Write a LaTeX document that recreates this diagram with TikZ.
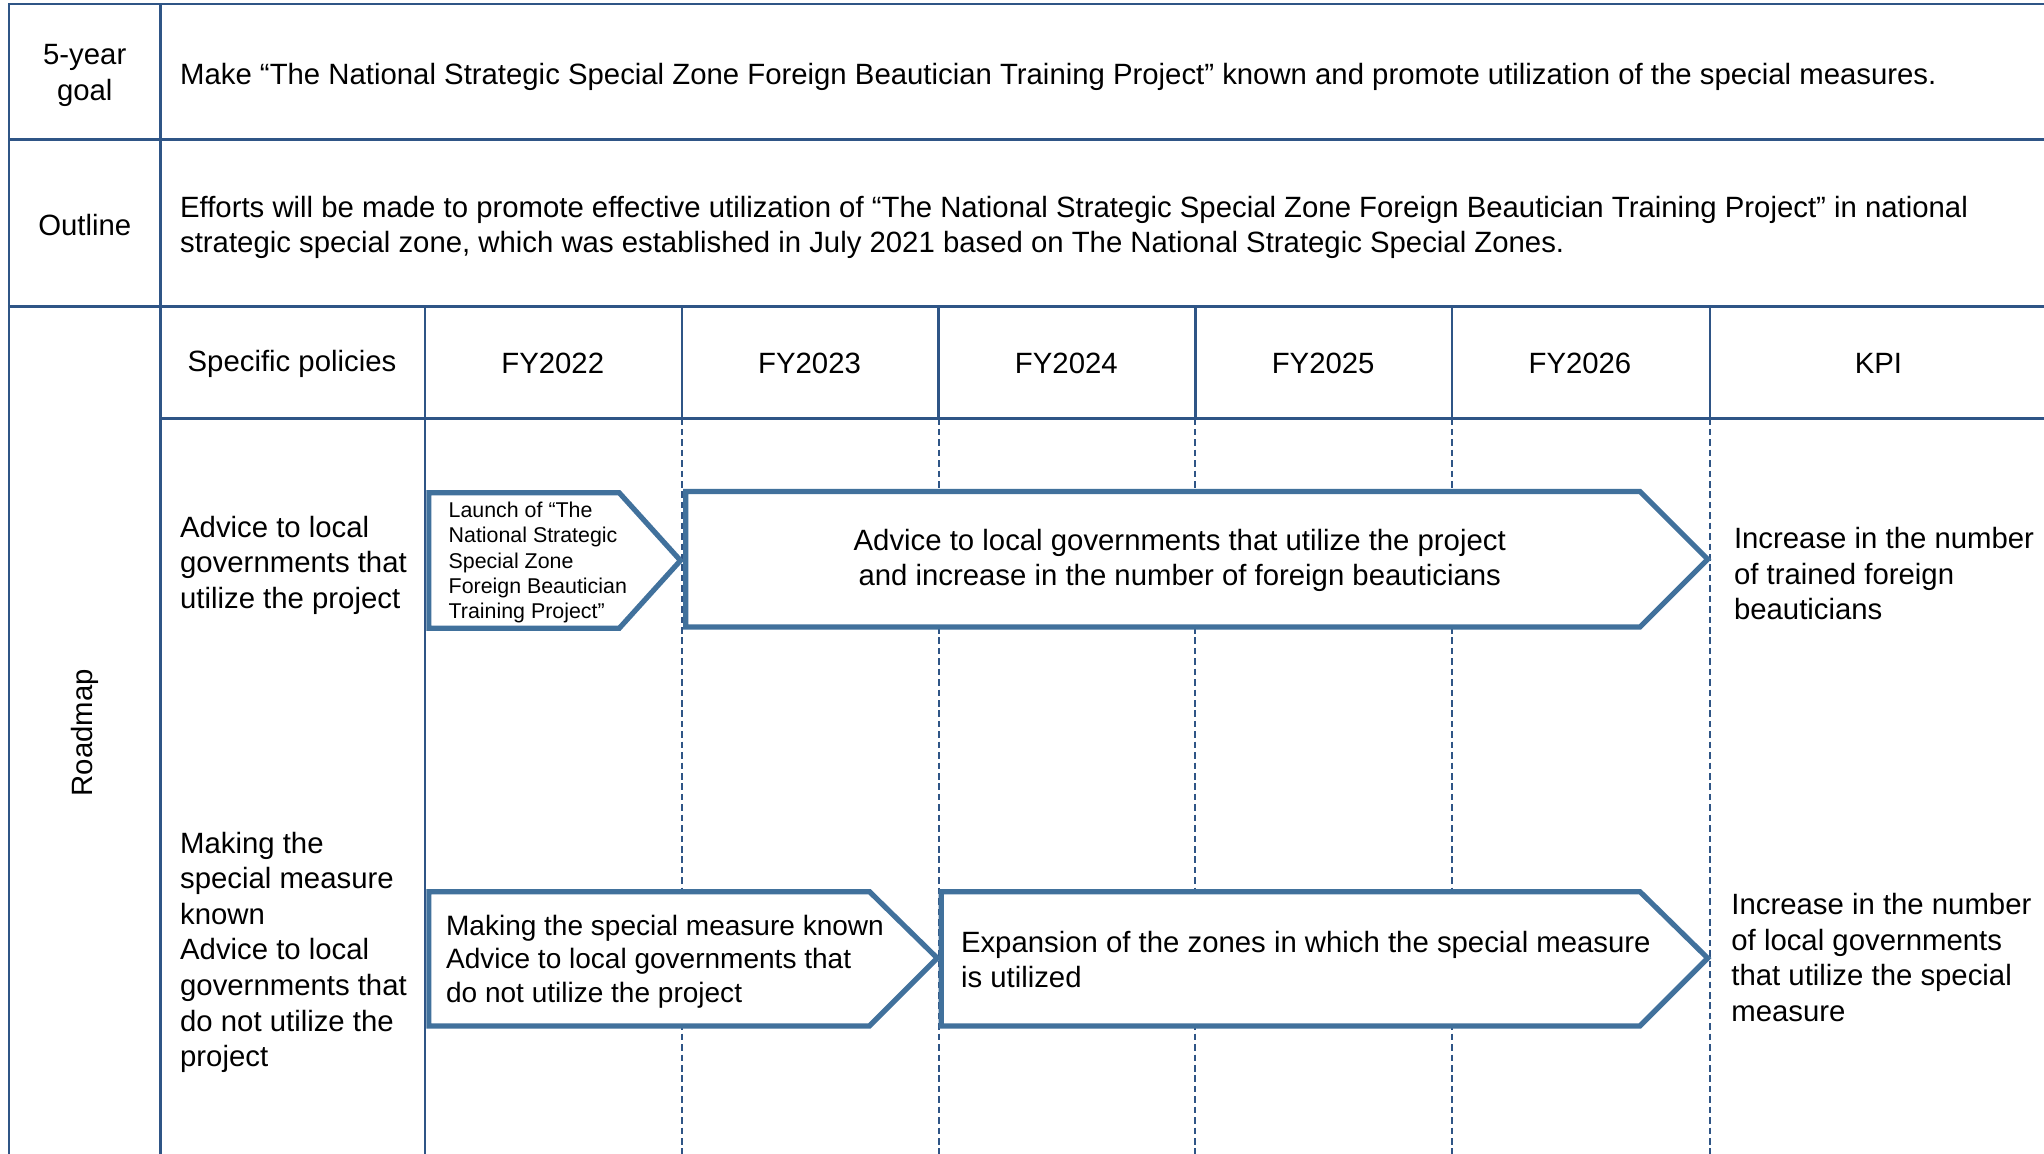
\documentclass[tikz,border=0pt]{standalone}
\usepackage{fontspec}
\setmainfont{Liberation Sans}
\definecolor{tbl}{RGB}{47,85,134}
\definecolor{arr}{RGB}{65,113,156}
\begin{document}
\begin{tikzpicture}[x=1pt,y=-1pt,
  tline/.style={draw=tbl,line width=1.8pt},
  dline/.style={draw=tbl,line width=1.5pt,dash pattern=on 5pt off 3pt},
  arrowbox/.style={draw=arr,line width=4pt,fill=white,line join=miter},
  txt/.style={inner sep=0pt,font=\fontsize{22.5}{27.3}\selectfont,text=black},
  smalltxt/.style={inner sep=0pt,font=\fontsize{16.4}{19.5}\selectfont,text=black}]
\useasboundingbox (0,0) rectangle (1568,885);
\fill[white] (0,0) rectangle (1568,885);
% table lines
\draw[tline] (7,885) -- (7,3) -- (1568,3);
\draw[tline] (123,3) -- (123,885);
\draw[tline] (7,107) -- (1568,107);
\draw[tline] (7,235) -- (1568,235);
\draw[tline] (123,321) -- (1568,321);
\draw[tline] (326,235) -- (326,885);
\foreach \c in {523,720,917,1114,1312}{
  \draw[tline] (\c,235) -- (\c,321);
  \draw[dline] (\c,321) -- (\c,885);
}
% labels
\node[txt,align=center] (goal) at (65,58) {5-year\\goal};
\node[txt,anchor=west] (goaltxt) at (138,59) {Make “The National Strategic Special Zone Foreign Beautician Training Project” known and promote utilization of the special measures.};
\node[txt] (outline) at (65,173) {Outline};
\node[txt,anchor=west,align=left] (outlinetxt) at (138,174.5) {Efforts will be made to promote effective utilization of “The National Strategic Special Zone Foreign Beautician Training Project” in national\\strategic special zone, which was established in July 2021 based on The National Strategic Special Zones.};
\node[txt,rotate=90] (roadmap) at (65,562) {Roadmap};
\node[txt] (hpol) at (224,279) {Specific policies};
\node[txt] (h22) at (424,279) {FY2022};
\node[txt] (h23) at (621,279) {FY2023};
\node[txt] (h24) at (818,279) {FY2024};
\node[txt] (h25) at (1015,279) {FY2025};
\node[txt] (h26) at (1212,279) {FY2026};
\node[txt] (hkpi) at (1441,279) {KPI};
% row 1
\node[txt,anchor=west,align=left] (pol1) at (138,433.5) {Advice to local\\governments that\\utilize the project};
\draw[arrowbox] (329,378) -- (475,378) -- (522,430) -- (475,482) -- (329,482) -- cycle;
\node[smalltxt,anchor=west,align=left] (a1) at (344,431.5) {Launch of “The\\National Strategic\\Special Zone\\Foreign Beautician\\Training Project”};
\draw[arrowbox] (526,377) -- (1258,377) -- (1310,429) -- (1258,481) -- (526,481) -- cycle;
\node[txt,align=center] (a2) at (905,430) {Advice to local governments that utilize the project\\and increase in the number of foreign beauticians};
\node[txt,anchor=west,align=left] (kpi1) at (1330,440) {Increase in the number\\of trained foreign\\beauticians};
% row 2
\node[txt,anchor=west,align=left] (pol2) at (138,730.5) {Making the\\special measure\\known\\Advice to local\\governments that\\do not utilize the\\project};
\draw[arrowbox] (329,684) -- (667,684) -- (719,735) -- (667,787) -- (329,787) -- cycle;
\node[txt,anchor=west,align=left,font=\fontsize{21.5}{25.6}\selectfont] (a3) at (342,737.5) {Making the special measure known\\Advice to local governments that\\do not utilize the project};
\draw[arrowbox] (722,684) -- (1258,684) -- (1310,735) -- (1258,787) -- (722,787) -- cycle;
\node[txt,anchor=west,align=left] (a4) at (737,736) {Expansion of the zones in which the special measure\\is utilized};
\node[txt,anchor=west,align=left] (kpi2) at (1328,734.5) {Increase in the number\\of local governments\\that utilize the special\\measure};
\end{tikzpicture}
\end{document}
